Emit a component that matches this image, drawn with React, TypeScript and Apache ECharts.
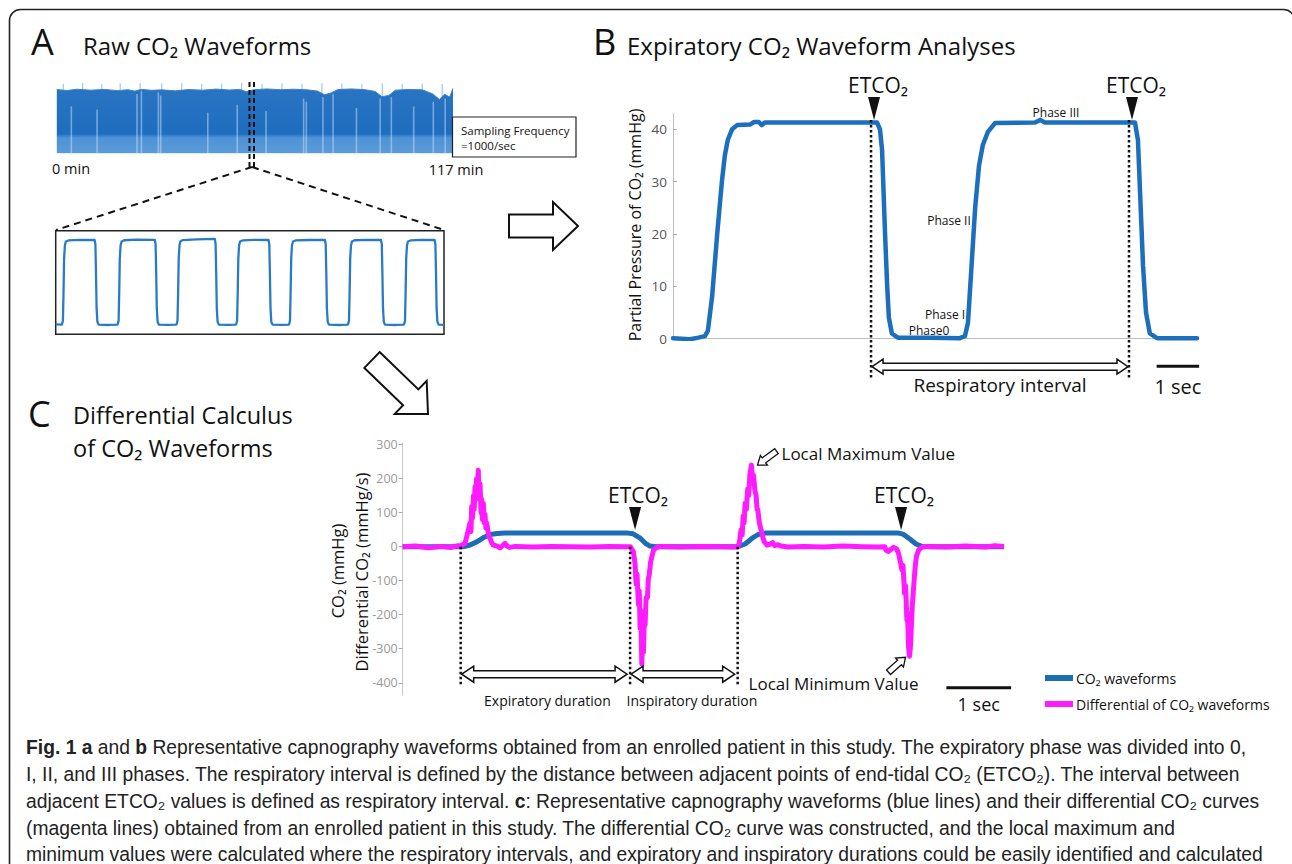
import React, { useEffect, useRef } from "react";
import * as echarts from "echarts";

// ---------- Panel A: raw 117-min trace (time in min, CO2 mmHg envelope) ----------
const RAW_T = [0, 3, 6, 10, 14, 18, 21, 23, 25, 28, 31, 35, 39, 43, 47, 51, 54, 56, 58, 62, 66, 70, 74, 77, 79, 81, 83, 87, 91, 94, 96, 98, 100, 104, 108, 111, 113, 114.5, 116, 117];
const RAW_TOP = [40.8, 40.2, 41.0, 40.4, 40.9, 40.1, 40.7, 39.8, 40.9, 40.3, 40.6, 40.0, 40.8, 40.4, 41.1, 40.5, 40.9, 39.4, 40.6, 41.2, 40.7, 41.0, 40.6, 39.8, 37.5, 38.6, 40.8, 41.2, 40.7, 39.6, 36.2, 37.0, 40.4, 40.9, 40.6, 38.0, 34.5, 37.8, 36.0, 41.5];
const RAW_SPIKE_T = [1.9, 7.65, 13.3, 18.7, 24.6, 31.0, 36.9, 42.8, 48.7, 54.6, 60.6, 66.5, 72.4, 78.3, 84.2, 90.1, 96.1, 102.0, 107.9, 113.8];
const RAW_SPIKE_V = [44.5, 45, 44.2, 44.8, 45, 44.6, 44.9, 44.3, 44.7, 45, 44.4, 44.8, 44.5, 45, 44.6, 44.2, 44.9, 44.5, 44.7, 44.3];
const RAW_STREAK_T = [4.2, 11.8, 23.6, 24.9, 29.9, 30.6, 44.5, 53.2, 61.7, 72.8, 73.6, 78.5, 81.5, 88.4, 95.4, 98.7, 105.3, 111.1, 114.6];
const RAW_STREAK_V = [30, 28, 38, 40, 39, 37, 26, 31, 27, 35, 33, 36, 38, 29, 35, 36, 30, 33, 35];

// ---------- Panel A: zoomed 7-breath segment (time s, CO2 mmHg) ----------
const A_BREATHS = [
  [0, 0.3], [0.62, 0.2], [0.72, 2], [0.78, 15], [0.84, 32], [0.92, 38.5], [1.02, 40.3], [1.27, 40.8], [2.4, 41.1], [3.89, 41], [3.97, 39], [4.03, 25], [4.09, 8], [4.17, 1.5], [4.29, 0.2], [5.3, 0],
  [6.19, 0.2], [6.29, 2], [6.35, 15], [6.41, 32], [6.49, 38.5], [6.59, 40.3], [6.84, 40.9], [8.1, 41.2], [9.91, 41.1], [9.99, 39], [10.05, 25], [10.11, 8], [10.19, 1.5], [10.31, 0.2], [11.2, 0],
  [12.08, 0.2], [12.18, 2], [12.24, 15], [12.3, 32], [12.38, 38.5], [12.48, 40.4], [12.73, 41.0], [14.1, 41.3], [15.91, 41.6], [15.99, 39], [16.05, 25], [16.11, 8], [16.19, 1.5], [16.31, 0.2], [17.2, 0],
  [18.04, 0.2], [18.14, 2], [18.2, 15], [18.26, 32], [18.34, 38.5], [18.44, 40.3], [18.69, 40.8], [19.9, 41.1], [21.28, 41.0], [21.36, 39], [21.42, 25], [21.48, 8], [21.56, 1.5], [21.68, 0.2], [22.6, 0],
  [23.33, 0.2], [23.43, 2], [23.49, 15], [23.55, 32], [23.63, 38.5], [23.73, 40.3], [23.98, 40.8], [25.3, 41.0], [26.92, 41.1], [27.0, 39], [27.06, 25], [27.12, 8], [27.2, 1.5], [27.32, 0.2], [28.5, 0],
  [29.23, 0.2], [29.33, 2], [29.39, 15], [29.45, 32], [29.53, 38.5], [29.63, 40.3], [29.88, 40.9], [31.0, 41.1], [32.53, 41.0], [32.61, 39], [32.67, 25], [32.73, 8], [32.81, 1.5], [32.93, 0.2], [34.0, 0],
  [34.83, 0.2], [34.93, 2], [34.99, 15], [35.05, 32], [35.13, 38.5], [35.23, 40.3], [35.48, 40.8], [36.6, 41.1], [37.89, 41.0], [37.97, 39], [38.03, 25], [38.09, 8], [38.17, 1.5], [38.29, 0.2], [38.83, 0],
];

// ---------- Panel B: one respiratory cycle pair (time s, CO2 mmHg) ----------
const B_CURVE = [
  [0, 0.1], [0.4, -0.1], [0.6, 0.2], [0.75, 0.5], [0.82, 1.5], [0.92, 8], [1.04, 20], [1.15, 30], [1.22, 35], [1.29, 38], [1.39, 40], [1.51, 40.8], [1.81, 40.9], [1.91, 41.4], [2.02, 41.4], [2.09, 40.8], [2.16, 41.3],
  [3.5, 41.3], [4.8, 41.3], [4.87, 40], [4.92, 36], [4.99, 20], [5.04, 10], [5.08, 4], [5.15, 1], [5.29, 0.2], [6.05, 0.2], [6.75, 0.1],
  [6.87, 0.5], [6.94, 3], [7.01, 12], [7.11, 25], [7.2, 33], [7.29, 37], [7.41, 39.5], [7.58, 41.2], [8.52, 41.3], [8.64, 41.8], [8.75, 41.3],
  [10.87, 41.3], [10.94, 38], [10.99, 28], [11.06, 14], [11.13, 5], [11.22, 1], [11.39, 0.1], [12.33, 0.1],
];
const B_TICKS = [0, 10, 20, 30, 40];
const B_ETCO2_T = [4.66, 10.73];
const B_ETCO2_LEVEL = 41.3;
const B_SCALE_T = [11.38, 12.38];

// ---------- Panel C: CO2 and its derivative (time s) ----------
const C_CO2 = [
  [0, 0], [0.93, 0], [1.04, 5], [1.15, 15], [1.26, 28], [1.35, 36], [1.46, 39], [1.58, 40], [3.48, 40], [3.56, 38], [3.67, 25], [3.75, 10], [3.82, 2], [3.92, 0],
  [5.18, 0], [5.29, 8], [5.4, 25], [5.49, 36], [5.6, 40], [7.66, 40], [7.73, 37], [7.84, 22], [7.93, 8], [8.02, 1], [8.15, 0], [9.29, 0],
];
const C_DIFF = [
  [0, 0], [0.2, 2], [0.4, -3], [0.6, 1], [0.75, -2], [0.85, 3], [0.886, 2], [0.963, 10], [1.014, 49], [1.04, 70], [1.055, 45], [1.066, 118], [1.08, 85], [1.094, 150], [1.105, 110], [1.117, 176], [1.13, 140], [1.141, 200], [1.155, 160], [1.168, 225], [1.179, 140], [1.195, 185], [1.21, 100], [1.218, 140], [1.232, 80], [1.246, 128], [1.26, 70], [1.272, 95], [1.285, 55], [1.298, 70], [1.326, 35], [1.349, 25], [1.375, 12], [1.4, 5], [1.457, 2], [1.504, -3], [1.55, 4], [1.581, 10], [1.61, 2], [1.65, -2], [1.737, 1],
  [2.0, -1], [2.3, 1], [2.6, 0], [2.9, -1], [3.2, 1], [3.45, 0],
  [3.517, 0], [3.565, -15], [3.59, -50], [3.606, -110], [3.62, -80], [3.642, -170], [3.655, -130], [3.668, -240], [3.68, -190], [3.694, -345], [3.705, -280], [3.72, -310], [3.733, -210], [3.745, -230], [3.76, -150], [3.781, -150], [3.795, -95], [3.811, -80], [3.83, -45], [3.849, -30], [3.875, -10], [3.926, -2], [3.977, 1],
  [4.3, -1], [4.6, 1], [4.9, 0], [5.1, -1], [5.174, 0],
  [5.2, 10], [5.227, 49], [5.245, 35], [5.26, 90], [5.275, 70], [5.29, 128], [5.31, 110], [5.33, 170], [5.345, 150], [5.365, 215], [5.389, 240], [5.405, 190], [5.42, 210], [5.442, 165], [5.46, 150], [5.475, 110], [5.487, 108], [5.51, 70], [5.538, 49], [5.56, 30], [5.585, 15], [5.63, 5], [5.68, 8], [5.716, 12], [5.75, 3], [5.8, 6], [5.845, 2], [5.95, -1],
  [6.2, 1], [6.5, -1], [6.8, 2], [7.1, 0], [7.35, -1], [7.45, 0],
  [7.466, -10], [7.5, -14], [7.54, -8], [7.58, -2], [7.63, -6], [7.66, -19], [7.69, -45], [7.712, -68], [7.73, -55], [7.753, -137], [7.77, -115], [7.79, -216], [7.8, -195], [7.815, -294], [7.83, -322], [7.842, -300], [7.852, -265], [7.872, -176], [7.89, -130], [7.906, -88], [7.92, -55], [7.937, -29], [7.97, -10], [8.02, -2], [8.1, 1],
  [8.4, -1], [8.7, 2], [9.0, -1], [9.15, 3], [9.29, 1],
];
const C_TICKS = [-400, -300, -200, -100, 0, 100, 200, 300];
const C_DOTTED_T = [0.896, 3.513, 5.175];
const C_ETCO2_T = [3.59, 7.7];
const C_ETCO2_LEVEL = 40;
const C_LOCAL_MAX = [5.389, 240];
const C_LOCAL_MIN = [7.83, -322];
const C_SCALE_T = [8.4, 9.4];

const CAPTION = [
  "{b|Fig. 1 a} and {b|b} Representative capnography waveforms obtained from an enrolled patient in this study. The expiratory phase was divided into 0,",
  "I, II, and III phases. The respiratory interval is defined by the distance between adjacent points of end-tidal CO₂ (ETCO₂). The interval between",
  "adjacent ETCO₂ values is defined as respiratory interval. {b|c}: Representative capnography waveforms (blue lines) and their differential CO₂ curves",
  "(magenta lines) obtained from an enrolled patient in this study. The differential CO₂ curve was constructed, and the local maximum and",
  "minimum values were calculated where the respiratory intervals, and expiratory and inspiratory durations could be easily identified and calculated",
];

const FONT = "'Open Sans', 'Noto Sans', sans-serif";
const CAP_FONT = "'Liberation Sans', Arial, sans-serif";
const CAP_SIZE = 19.3;
const BLUE = "#1b6fbd";
const MAGENTA = "#ff1aff";

function txt(text: string, x: number, y: number, size: number, o: any = {}) {
  const align = o.align || "center";
  return {
    type: "text", x, y, z: 100, rotation: o.rot || 0,
    style: {
      text, fontSize: size, fontFamily: o.font || FONT, fontWeight: o.weight || "normal",
      fill: o.color || "#111", align, verticalAlign: "middle", textAlign: align, textVerticalAlign: "middle",
      lineHeight: o.lineHeight, rich: o.rich,
    },
  };
}
function seg(x1: number, y1: number, x2: number, y2: number, w: number, dash?: number[]) {
  return { type: "line", z: 100, shape: { x1, y1, x2, y2 }, style: { stroke: "#111", lineWidth: w, lineDash: dash } };
}
function poly(points: number[][], fill: string, stroke?: string, w = 1.5) {
  return { type: "polygon", z: 100, shape: { points }, style: { fill, stroke: stroke || "none", lineWidth: w } };
}
function blockArrow(x1: number, y1: number, x2: number, y2: number, shaft: number, head: number, headLen: number, dbl: boolean) {
  const dx = x2 - x1, dy = y2 - y1, L = Math.hypot(dx, dy);
  const ux = dx / L, uy = dy / L, nx = -uy, ny = ux;
  const P = (s: number, o: number) => [x1 + ux * s + nx * o, y1 + uy * s + ny * o];
  const hs = shaft / 2, hh = head / 2;
  if (!dbl) return [P(0, -hs), P(L - headLen, -hs), P(L - headLen, -hh), P(L, 0), P(L - headLen, hh), P(L - headLen, hs), P(0, hs)];
  return [P(0, 0), P(headLen, -hh), P(headLen, -hs), P(L - headLen, -hs), P(L - headLen, -hh), P(L, 0), P(L - headLen, hh), P(L - headLen, hs), P(headLen, hs), P(headLen, hh)];
}
function tri(x: number, tipY: number) {
  return poly([[x - 6, tipY - 23], [x + 6, tipY - 23], [x, tipY]], "#111");
}

function buildOption() {
  return {
    animation: false,
    backgroundColor: "#fff",
    grid: [
      { left: 56.8, top: 83, width: 396.2, height: 70.3 },
      { left: 55.7, top: 230.7, width: 388.3, height: 103.6, show: true, borderColor: "#222", borderWidth: 1.5, backgroundColor: "transparent" },
      { left: 673, top: 113.6, width: 524, height: 225.1 },
      { left: 402.7, top: 443, width: 601.3, height: 252 },
    ],
    xAxis: [
      { gridIndex: 0, type: "value", min: 0, max: 117, show: false },
      { gridIndex: 1, type: "value", min: 0, max: 38.83, show: false },
      {
        gridIndex: 2, type: "value", min: 0, max: 12.33,
        axisLine: { show: true, onZero: false, lineStyle: { color: "#bdbdbd", width: 1 } },
        axisTick: { show: false }, axisLabel: { show: false }, splitLine: { show: false },
      },
      { gridIndex: 3, type: "value", min: 0, max: 9.29, show: false },
    ],
    yAxis: [
      { gridIndex: 0, type: "value", min: 0, max: 45, show: false },
      { gridIndex: 1, type: "value", min: -4.5, max: 45.5, show: false },
      {
        gridIndex: 2, type: "value", min: 0, max: 43,
        axisLine: { show: true, lineStyle: { color: "#bdbdbd", width: 1 } },
        axisTick: { show: true, inside: true, length: 4, customValues: B_TICKS, lineStyle: { color: "#aaa" } },
        axisLabel: { customValues: B_TICKS, margin: 6, color: "#555", fontSize: 13.5, fontFamily: FONT },
        splitLine: { show: false },
      },
      {
        gridIndex: 3, type: "value", min: -436, max: 305,
        axisLine: { show: true, lineStyle: { color: "#c8c8c8", width: 1 } },
        axisTick: { show: true, length: 4, customValues: C_TICKS, lineStyle: { color: "#aaa" } },
        axisLabel: { customValues: C_TICKS, margin: 5, color: "#999", fontSize: 12.5, fontFamily: FONT },
        splitLine: { show: false },
      },
    ],
    legend: {
      data: ["CO₂ waveforms", "Differential of CO₂ waveforms"],
      orient: "vertical", left: 1045, top: 671, padding: 0, itemWidth: 28, itemHeight: 6, itemGap: 12,
      icon: "rect", selectedMode: false,
      textStyle: { fontFamily: FONT, fontSize: 14, color: "#111", padding: [0, 0, 0, -2] },
    },
    series: [
      {
        type: "line", xAxisIndex: 0, yAxisIndex: 0, data: RAW_T.map((t, i) => [t, RAW_TOP[i]]),
        showSymbol: false, z: 2, lineStyle: { width: 1, color: "#3a82c9" },
        areaStyle: {
          opacity: 1,
          color: new echarts.graphic.LinearGradient(0, 0, 0, 1, [
            { offset: 0, color: "#2a74c2" }, { offset: 0.7, color: "#1f6dbf" }, { offset: 0.76, color: "#4f93d6" }, { offset: 1, color: "#5a9bd9" },
          ]),
        },
      },
      {
        type: "bar", xAxisIndex: 0, yAxisIndex: 0, barWidth: 1.6, barGap: "-100%", z: 3,
        data: RAW_STREAK_T.map((t, i) => [t, RAW_STREAK_V[i]]), itemStyle: { color: "rgba(200,225,245,0.5)" },
      },
      {
        type: "bar", xAxisIndex: 0, yAxisIndex: 0, barWidth: 1, barGap: "-100%", z: 1,
        data: RAW_SPIKE_T.map((t, i) => [t, RAW_SPIKE_V[i]]), itemStyle: { color: "#8dbbe6" },
      },
      {
        type: "line", xAxisIndex: 1, yAxisIndex: 1, data: A_BREATHS, showSymbol: false,
        lineStyle: { width: 2.3, color: "#2a7cc2", join: "round" },
      },
      {
        type: "line", xAxisIndex: 2, yAxisIndex: 2, data: B_CURVE, showSymbol: false,
        lineStyle: { width: 4.5, color: BLUE, join: "round", cap: "round" },
      },
      {
        name: "CO₂ waveforms", type: "line", xAxisIndex: 3, yAxisIndex: 3, data: C_CO2, showSymbol: false, color: "#1c6db3",
        lineStyle: { width: 5, color: "#1c6db3", join: "round" }, z: 2,
      },
      {
        name: "Differential of CO₂ waveforms", type: "line", xAxisIndex: 3, yAxisIndex: 3, data: C_DIFF, showSymbol: false, color: MAGENTA,
        lineStyle: { width: 5, color: MAGENTA, join: "round" }, z: 3,
      },
    ],
  };
}

function buildGraphics(chart: any) {
  const px = (g: number, t: number, v: number) => chart.convertToPixel({ gridIndex: g }, [t, v]) as number[];
  const g: any[] = [];
  // outer frame
  g.push({ type: "rect", z: 100, shape: { x: 9.5, y: 9.5, width: 1285, height: 900, r: 11 }, style: { fill: "none", stroke: "#222", lineWidth: 1.6 } });

  // ---- Panel A ----
  g.push(txt("A", 31, 41, 36, { align: "left" }));
  g.push(txt("Raw CO₂ Waveforms", 83, 45, 24, { align: "left" }));
  g.push({ type: "rect", z: 100, shape: { x: 452.5, y: 117, width: 123.5, height: 40 }, style: { fill: "#fff", stroke: "#222", lineWidth: 1.2 } });
  g.push(txt("Sampling Frequency", 461, 130, 11.5, { align: "left" }));
  g.push(txt("=1000/sec", 461, 145, 11.5, { align: "left" }));
  g.push(txt("0 min", 52, 168, 14.5, { align: "left" }));
  g.push(txt("117 min", 456, 169, 14.5));
  g.push(seg(249.5, 82, 249.5, 167, 2, [5, 3]));
  g.push(seg(254, 82, 254, 167, 2, [5, 3]));
  g.push(seg(252, 167, 56, 230, 2, [7, 5]));
  g.push(seg(252, 167, 444, 230, 2, [7, 5]));
  g.push(poly(blockArrow(509, 226, 578, 226, 23, 48, 25, false), "#fff", "#111", 2));
  g.push(poly(blockArrow(372, 360, 428, 414, 22, 46, 24, false), "#fff", "#111", 2));

  // ---- Panel B ----
  g.push(txt("B", 593, 41, 36, { align: "left" }));
  g.push(txt("Expiratory CO₂ Waveform Analyses", 627, 45, 24, { align: "left" }));
  g.push(txt("Partial Pressure of CO₂ (mmHg)", 634.6, 225, 16, { rot: Math.PI / 2 }));
  const bE = B_ETCO2_T.map((t) => px(2, t, B_ETCO2_LEVEL));
  const bBase = px(2, 0, 0)[1];
  bE.forEach(([x, y]) => {
    const tip = y - 2.5;
    g.push(seg(x, tip, x, bBase + 39, 2.5, [2.5, 2.5]));
    g.push(tri(x + 3, tip));
    g.push(txt("ETCO₂", x + 7, tip - 35, 21));
  });
  g.push(poly(blockArrow(bE[0][0] + 1, bBase + 28, bE[1][0] - 1, bBase + 28, 7, 15, 11, true), "#fff", "#111", 1.5));
  g.push(txt("Respiratory interval", (bE[0][0] + bE[1][0]) / 2, bBase + 46, 19));
  const bs0 = px(2, B_SCALE_T[0], 0)[0], bs1 = px(2, B_SCALE_T[1], 0)[0];
  g.push(seg(bs0, bBase + 27.5, bs1, bBase + 27.5, 3));
  g.push(txt("1 sec", (bs0 + bs1) / 2, bBase + 48, 20));
  g.push(txt("Phase III", 1056, 112.7, 12, { lineHeight: 12 }));
  g.push(txt("Phase II", 949, 220, 12, { lineHeight: 12 }));
  g.push(txt("Phase I", 945, 314, 12, { lineHeight: 12 }));
  g.push(txt("Phase0", 929, 330.5, 12, { lineHeight: 12 }));

  // ---- Panel C ----
  g.push(txt("C", 28, 413, 36, { align: "left" }));
  g.push(txt("Differential Calculus", 73, 415, 23.5, { align: "left" }));
  g.push(txt("of CO₂ Waveforms", 73, 448, 23.5, { align: "left" }));
  g.push(txt("CO₂ (mmHg)", 337.6, 571, 16.5, { rot: Math.PI / 2 }));
  g.push(txt("Differential CO₂ (mmHg/s)", 361, 572, 16.5, { rot: Math.PI / 2 }));
  const cBase = px(3, 0, 0)[1];
  const cD = C_DOTTED_T.map((t) => px(3, t, 0)[0]);
  cD.forEach((x) => g.push(seg(x, cBase, x, cBase + 140, 2.5, [2.5, 2.5])));
  C_ETCO2_T.forEach((t) => {
    const [x, y] = px(3, t, C_ETCO2_LEVEL);
    const tip = y - 3;
    g.push(tri(x, tip));
    g.push(txt("ETCO₂", x + 3, tip - 35, 21));
  });
  const arrY = cBase + 127.5;
  g.push(poly(blockArrow(cD[0] + 1, arrY, cD[1] - 3, arrY, 7, 16, 12, true), "#fff", "#111", 1.5));
  g.push(poly(blockArrow(cD[1] + 1, arrY, cD[2] - 3, arrY, 7, 16, 12, true), "#fff", "#111", 1.5));
  g.push(txt("Expiratory duration", (cD[0] + cD[1]) / 2 + 2, cBase + 154, 14));
  g.push(txt("Inspiratory duration", (cD[1] + cD[2]) / 2 + 8, cBase + 154, 14));
  const [mx, my] = px(3, C_LOCAL_MAX[0], C_LOCAL_MAX[1]);
  g.push(poly(blockArrow(mx + 25, my - 14, mx + 6, my, 6, 12, 8, false), "#fff", "#111", 1.3));
  g.push(txt("Local Maximum Value", mx + 30, my - 12, 17, { align: "left" }));
  const [nx, ny] = px(3, C_LOCAL_MIN[0], C_LOCAL_MIN[1]);
  g.push(poly(blockArrow(nx - 21, ny + 16, nx - 4, ny + 1, 6, 12, 8, false), "#fff", "#111", 1.3));
  g.push(txt("Local Minimum Value", nx - 76, ny + 27, 17));
  const cs0 = px(3, C_SCALE_T[0], 0)[0], cs1 = px(3, C_SCALE_T[1], 0)[0];
  g.push(seg(cs0, cBase + 141, cs1, cBase + 141, 3));
  g.push(txt("1 sec", (cs0 + cs1) / 2, cBase + 157, 18));

  // ---- Caption ----
  const capY = [747, 774, 801, 828, 854];
  CAPTION.forEach((line, i) => {
    g.push(txt(line, 26, capY[i], CAP_SIZE, {
      align: "left", font: CAP_FONT, color: "#222",
      rich: { b: { fontWeight: "bold", fontSize: CAP_SIZE, fontFamily: CAP_FONT, fill: "#222", color: "#222" } },
    }));
  });
  return g;
}

export default function App() {
  const ref = useRef<HTMLDivElement>(null);
  useEffect(() => {
    const el = ref.current as HTMLDivElement;
    const chart = echarts.init(el, undefined, { renderer: "svg" });
    chart.setOption(buildOption() as any);
    chart.setOption({ graphic: buildGraphics(chart) } as any);
    return () => chart.dispose();
  }, []);
  return <div ref={ref} style={{ position: "fixed", left: 0, top: 0, width: 1292, height: 864, background: "#fff" }} />;
}
